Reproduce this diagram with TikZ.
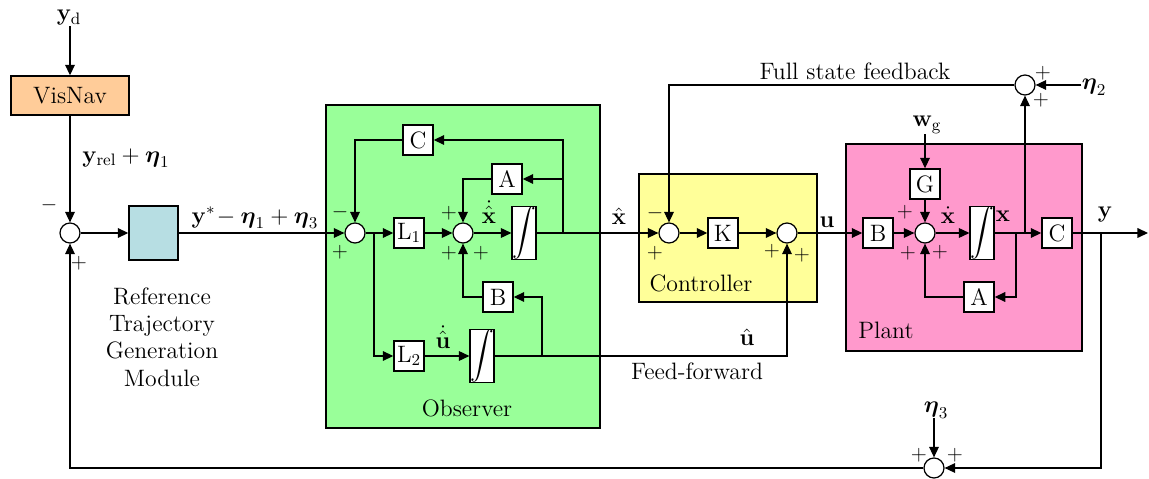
\documentclass[tikz,border=0pt]{standalone}
\usepackage{fix-cm}
\usepackage{amsmath}
\usepackage{amssymb}
\usetikzlibrary{arrows.meta}
\definecolor{visnavc}{HTML}{FFCC99}
\definecolor{refc}{HTML}{B7DEE3}
\definecolor{obsc}{HTML}{99FF99}
\definecolor{ctrlc}{HTML}{FFFF99}
\definecolor{plantc}{HTML}{FF99CC}
\tikzset{
  blk/.style={draw, fill=white, line width=0.8pt, minimum size=0.6cm, inner sep=0pt},
  intg/.style={draw, fill=white, line width=0.8pt, minimum width=0.42cm, minimum height=1cm, inner sep=0pt},
  sumnode/.style={circle, draw, fill=white, line width=0.7pt, minimum size=0.4cm, inner sep=0pt},
  sgn/.style={font=\fontsize{12}{14}\selectfont, inner sep=0pt},
  lbl/.style={inner sep=0pt},
  sig/.style={line width=0.7pt}
}
\begin{document}
\begin{tikzpicture}[x=0.02cm, y=-0.02cm, font=\fontsize{13.5}{16.5}\selectfont,
  >={Triangle[length=6pt,width=5.5pt]}]
\useasboundingbox (0,0) rectangle (1149,479);
% Regions
\draw[fill=obsc, line width=0.8pt] (326,105) rectangle (600,428);
\draw[fill=ctrlc, line width=0.8pt] (639,174) rectangle (817,302);
\draw[fill=plantc, line width=0.8pt] (846,144) rectangle (1082,351);
\node[lbl] (obstxt) at (467,408) {Observer};
\node[lbl] (ctrltxt) at (701,283) {Controller};
\node[lbl, anchor=west] (planttxt) at (858,330) {Plant};

% Reference trajectory generation
\node[lbl] (yd) at (69,18) {$\mathbf{y}_{\mathrm{d}}$};
\node[draw, fill=visnavc, line width=0.8pt, minimum width=2.36cm, minimum height=0.78cm] (visnav) at (70,95.5) {VisNav};
\node[sumnode] (s0) at (70,233) {};
\node[draw, fill=refc, line width=0.8pt, minimum width=0.98cm, minimum height=1.08cm, inner sep=0pt] (ref) at (153.5,233) {};
\node[lbl, align=center, font=\fontsize{13.5}{15.5}\selectfont] (reftxt) at (162,337) {Reference\\Trajectory\\Generation\\Module};
\node[lbl] (yrel) at (126,158) {$\mathbf{y}_{\mathrm{rel}}+\boldsymbol{\eta}_1$};
\node[lbl] (ystar) at (255,218) {$\mathbf{y}^{*}\!-\boldsymbol{\eta}_1+\boldsymbol{\eta}_3$};
\node[sgn] at (49,205) {$-$};
\node[sgn] at (79,263) {$+$};

% Observer
\node[sumnode] (os1) at (355,233) {};
\node[blk] (oC) at (418,140) {C};
\node[blk] (oL1) at (409,233) {L$_1$};
\node[sumnode] (os2) at (463,233) {};
\node[intg] (oint) at (524,233) {$\displaystyle\int$};
\node[blk] (oA) at (507,179) {A};
\node[blk] (oB) at (498,297) {B};
\node[blk] (oL2) at (409,356) {L$_2$};
\node[intg] (oint2) at (482,356) {$\displaystyle\int$};
\node[lbl] (xhd) at (489,212) {$\dot{\hat{\mathbf{x}}}$};
\node[lbl] (uhd) at (443,337) {$\dot{\hat{\mathbf{u}}}$};
\node[sgn] at (340,212) {$-$};
\node[sgn] at (340,252) {$+$};
\node[sgn] at (449,213) {$+$};
\node[sgn] at (449,253) {$+$};
\node[sgn] at (481,253) {$+$};
\coordinate (ob1) at (563,233);
\coordinate (ob2) at (374,233);
\coordinate (ob3) at (542,356);

% Controller
\node[sumnode] (cs1) at (669,233) {};
\node[blk] (cK) at (723,233) {K};
\node[sumnode] (cs2) at (787,233) {};
\node[lbl] (xh) at (619,216) {$\hat{\mathbf{x}}$};
\node[lbl] (uh) at (747,337) {$\hat{\mathbf{u}}$};
\node[lbl] (u) at (827,222) {$\mathbf{u}$};
\node[sgn] at (655,213) {$-$};
\node[sgn] at (655,253) {$+$};
\node[sgn] at (772,251) {$+$};
\node[sgn] at (802,255) {$+$};
\node[lbl] (fsf) at (855,71) {Full state feedback};
\node[lbl] (ff) at (697,371) {Feed-forward};

% Plant
\node[blk] (pB) at (878,233) {B};
\node[lbl] (wg) at (927,125) {$\mathbf{w}_{\mathrm{g}}$};
\node[blk] (pG) at (925,184) {G};
\node[sumnode] (ps) at (925,233) {};
\node[intg] (pint) at (982,233) {$\displaystyle\int$};
\node[blk] (pA) at (979,297) {A};
\node[blk] (pC) at (1057,233) {C};
\node[lbl] (xd) at (948,215) {$\dot{\mathbf{x}}$};
\node[lbl] (x) at (1003,216) {$\mathbf{x}$};
\node[lbl] (y) at (1105,215) {$\mathbf{y}$};
\node[sgn] at (905,212) {$+$};
\node[sgn] at (908,253) {$+$};
\node[sgn] at (940,252) {$+$};
\coordinate (pb1) at (1016,233);
\coordinate (pb2) at (1025,233);
\coordinate (pb3) at (1101,233);
\coordinate (yout) at (1148,233);

% Measurement noise
\node[sumnode] (ts) at (1025,85) {};
\node[lbl] (eta2) at (1094,87) {$\boldsymbol{\eta}_2$};
\node[sgn] at (1043,73) {$+$};
\node[sgn] at (1041,100) {$+$};
\node[sumnode] (bs) at (934,468) {};
\node[lbl] (eta3) at (936,410) {$\boldsymbol{\eta}_3$};
\node[sgn] at (919,455) {$+$};
\node[sgn] at (955,455) {$+$};

% Connectors
\draw[sig, ->] (visnav |- yd.south) -- (visnav);
\draw[sig, ->] (visnav) -- (s0);
\draw[sig, ->] (s0) -- (ref);
\draw[sig, ->] (ref) -- (os1);
\draw[sig, ->] (oC.west) -| (os1.north);
\draw[sig, ->] (os1) -- (oL1);
\draw[sig, ->] (oL1) -- (os2);
\draw[sig, ->] (os2) -- (oint);
\draw[sig, ->] (oint) -- (cs1);
\draw[sig, ->] (ob1) |- (oC.east);
\draw[sig, ->] (ob1 |- oA) -- (oA.east);
\draw[sig, ->] (oA.west) -| (os2.north);
\draw[sig, ->] (oB.west) -| (os2.south);
\draw[sig, ->] (ob2) |- (oL2.west);
\draw[sig, ->] (oL2) -- (oint2);
\draw[sig, ->] (oint2.east) -| (cs2.south);
\draw[sig, ->] (ob3) |- (oB.east);
\draw[sig, ->] (cs1) -- (cK);
\draw[sig, ->] (cK) -- (cs2);
\draw[sig, ->] (cs2) -- (pB);
\draw[sig, ->] (pB) -- (ps);
\draw[sig, ->] (pG |- wg.south) -- (pG);
\draw[sig, ->] (pG) -- (ps);
\draw[sig, ->] (ps) -- (pint);
\draw[sig, ->] (pint) -- (pC);
\draw[sig, ->] (pC) -- (yout);
\draw[sig, ->] (pb1) |- (pA.east);
\draw[sig, ->] (pA.west) -| (ps.south);
\draw[sig, ->] (pb2) -- (ts.south);
\draw[sig, ->] (eta2.west |- ts) -- (ts);
\draw[sig, ->] (ts.west) -| (cs1.north);
\draw[sig, ->] (pb3) |- (bs.east);
\draw[sig, ->] (bs |- eta3.south) -- (bs);
\draw[sig, ->] (bs.west) -| (s0.south);
\end{tikzpicture}
\end{document}
